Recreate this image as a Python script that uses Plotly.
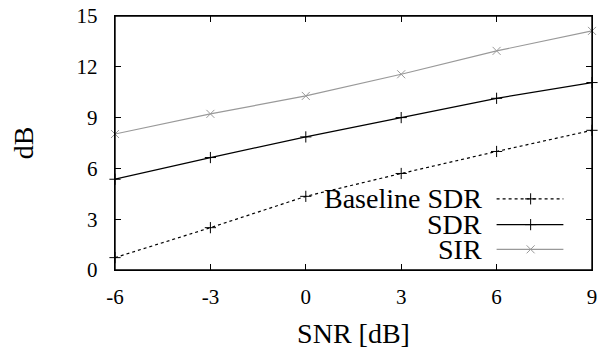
import plotly.graph_objects as go

# ---- data ----
snr = [-6, -3, 0, 3, 6, 9]
baseline_sdr = [0.73, 2.5, 4.35, 5.7, 7.0, 8.25]
sdr = [5.36, 6.64, 7.86, 9.0, 10.14, 11.07]
sir = [8.03, 9.22, 10.28, 11.56, 12.94, 14.12]
x_ticks = [-6, -3, 0, 3, 6, 9]
y_ticks = [0, 3, 6, 9, 12, 15]

FONT = "Liberation Serif, Times New Roman, serif"
GRAY = "#999999"

series = [
    ("Baseline SDR", baseline_sdr, "black", "dot", "cross-thin-open"),
    ("SDR", sdr, "black", "solid", "cross-thin-open"),
    ("SIR", sir, GRAY, "solid", "x-thin-open"),
]

# legend layout (data coordinates of the custom legend, right-aligned text)
leg_text_x = 5.6
leg_line_x = [6.0, 8.1]
leg_mark_x = 7.07
leg_rows = [4.2, 2.68, 1.22]

fig = go.Figure()
for (name, vals, col, dash, sym) in series:
    fig.add_trace(go.Scatter(
        x=snr, y=vals, mode="lines+markers", name=name,
        line=dict(color=col, width=1.2, dash=dash),
        marker=dict(symbol=sym, size=8, color=col, line=dict(color=col, width=1)),
        showlegend=False, cliponaxis=False))

for (name, vals, col, dash, sym), ry in zip(series, leg_rows):
    fig.add_trace(go.Scatter(
        x=leg_line_x, y=[ry, ry], mode="lines",
        line=dict(color=col, width=1.2, dash=dash), showlegend=False, hoverinfo="skip"))
    fig.add_trace(go.Scatter(
        x=[leg_mark_x], y=[ry], mode="markers",
        marker=dict(symbol=sym, size=8, color=col, line=dict(color=col, width=1)),
        showlegend=False, hoverinfo="skip"))
    fig.add_annotation(x=leg_text_x, y=ry, xref="x", yref="y", text=name,
                       showarrow=False, xanchor="right", yanchor="middle",
                       font=dict(family=FONT, size=28, color="black"))

axis_common = dict(
    showgrid=False, zeroline=False, showline=True, linecolor="black", linewidth=1.4,
    mirror="allticks", ticks="inside", ticklen=6, tickwidth=1.2, tickcolor="black",
    tickfont=dict(family=FONT, size=21, color="black"), automargin=False,
)

fig.update_xaxes(**axis_common, range=[-6, 9], tickvals=x_ticks,
                 ticktext=[str(v) for v in x_ticks], ticklabelstandoff=8,
                 title=dict(text="SNR [dB]", font=dict(family=FONT, size=28, color="black"),
                            standoff=15))
fig.update_yaxes(**axis_common, range=[0, 15], tickvals=y_ticks,
                 ticktext=[str(v) for v in y_ticks], ticklabelstandoff=12,
                 title=dict(text="dB", font=dict(family=FONT, size=28, color="black"),
                            standoff=34))

fig.add_shape(type="rect", xref="paper", yref="paper", x0=0, x1=1, y0=0, y1=1,
              line=dict(color="black", width=1.4), layer="above")

fig.update_layout(
    width=612, height=349,
    margin=dict(l=115, r=20, t=16, b=79, pad=0),
    paper_bgcolor="white", plot_bgcolor="white",
    showlegend=False,
)

fig.write_html("out.html")
